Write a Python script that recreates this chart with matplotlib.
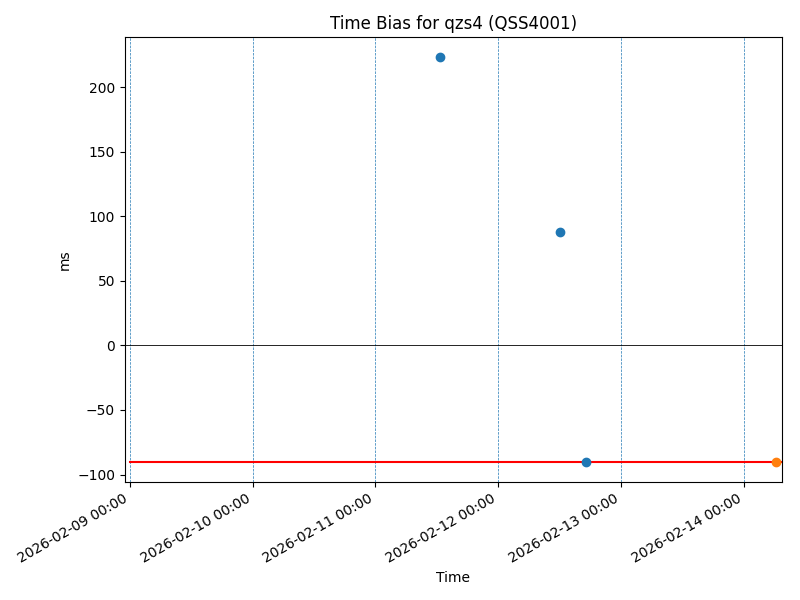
import matplotlib
matplotlib.use("Agg")
import matplotlib.pyplot as plt
import matplotlib.dates as mdates
import pandas as pd

# time bias samples (ms)
blue_times = pd.to_datetime(["2026-02-11 12:40", "2026-02-12 12:10", "2026-02-12 17:15"])
blue_vals = [223, 88, -90]
orange_times = pd.to_datetime(["2026-02-14 06:25"])
orange_vals = [-90]

# reference level
ref_times = pd.to_datetime(["2026-02-09 00:00", "2026-02-14 08:00"])
ref_vals = [-90, -90]

day_marks = pd.date_range("2026-02-09", "2026-02-14", freq="D")

fig, ax = plt.subplots(figsize=(8, 6), dpi=100)

for d in day_marks:
    ax.axvline(d, color="C0", linestyle="--", linewidth=0.5)
ax.axhline(0, color="black", linewidth=0.6)

ax.plot(ref_times, ref_vals, color="red", linewidth=1.5)
ax.scatter(blue_times, blue_vals, color="C0", zorder=3)
ax.scatter(orange_times, orange_vals, color="C1", zorder=3)

ax.set_xlim(pd.Timestamp("2026-02-08 23:00"), pd.Timestamp("2026-02-14 07:30"))
ax.xaxis.set_major_locator(mdates.DayLocator())
ax.xaxis.set_major_formatter(mdates.DateFormatter("%Y-%m-%d %H:%M"))

ax.set_title("Time Bias for qzs4 (QSS4001)")
ax.set_xlabel("Time")
ax.set_ylabel("ms")
fig.autofmt_xdate()
fig.subplots_adjust(left=0.156, right=0.9775, top=0.938, bottom=0.197)
fig.savefig("out.png")
